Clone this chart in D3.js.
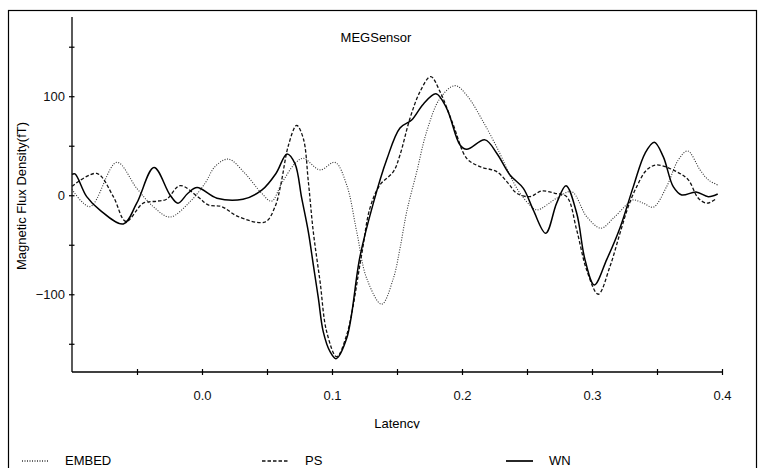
<!DOCTYPE html>
<html>
<head>
<meta charset="utf-8">
<script src="https://cdn.jsdelivr.net/npm/d3@7"></script>
<style>
  body { margin: 0; background: #fff; }
  svg { display: block; font-family: "Liberation Sans", Arial, sans-serif; }
</style>
</head>
<body>
<div id="chart"></div>
<script>
// MEG sensor traces (latency in s, flux density in fT)
const wnLatency = [-0.1, -0.0977, -0.0887, -0.0785, -0.0605, -0.0502, -0.0369, -0.0246, -0.0185, -0.0108, -0.0038,
  0.0115, 0.0315, 0.0462, 0.0569, 0.0654, 0.0715, 0.0767, 0.0818, 0.0856, 0.0895, 0.0933, 0.0985, 0.1031, 0.1113,
  0.1215, 0.1318, 0.1421, 0.1523, 0.1613, 0.1702, 0.18, 0.1882, 0.1985, 0.2036, 0.2177, 0.2267, 0.2369, 0.2472,
  0.2548, 0.2644, 0.2728, 0.28, 0.2882, 0.2946, 0.3018, 0.3113, 0.3215, 0.3318, 0.3408, 0.3479, 0.3548, 0.3625,
  0.369, 0.38, 0.3895, 0.3967];
const wnValues = [21, 21.5, -1.4, -15, -29, -8, 28, 0.3, -8, 2, 7.7,
  -3, -4, 5.4, 22, 41.7, 32, -3, -37, -70, -104, -138, -158, -165, -144.5,
  -62, -8, 36, 68, 76, 92, 102.5, 87.8, 50.8, 46.4, 55.9, 42.4, 20.5, 7,
  -14.8, -38.4, -8, 9.7, -18, -65, -90.6, -65, -33, 8.7, 42.4, 53.5, 39, 8.7,
  0.3, 3.3, -1.4, 1.3];

const psLatency = [-0.1, -0.081, -0.0682, -0.0585, -0.0452, -0.0348, -0.0272, -0.0169, -0.0028, 0.0048, 0.0152,
  0.0279, 0.0485, 0.0562, 0.0608, 0.0664, 0.0728, 0.0779, 0.0818, 0.0856, 0.0908, 0.0959, 0.1036, 0.1113, 0.1228,
  0.1292, 0.1369, 0.1472, 0.1523, 0.16, 0.1677, 0.1759, 0.1831, 0.1933, 0.2036, 0.2138, 0.2267, 0.2356, 0.2421,
  0.2523, 0.2613, 0.2715, 0.2805, 0.2882, 0.2959, 0.3048, 0.3138, 0.3215, 0.3279, 0.3344, 0.3421, 0.3498, 0.3651,
  0.3741, 0.3818, 0.3887, 0.3959];
const psValues = [9, 22, -1.4, -26.5, -8, -6, -4, 9.7, -2, -9.8, -11.5,
  -21.6, -27, -11.5, 12, 50, 70.5, 57.5, 13.7, -36.8, -87, -137.8, -163, -141, -60,
  -13, 10.4, 23.8, 40.7, 77.7, 104.6, 119.8, 104.6, 71, 37.3, 28.9, 23.8, 12, 2,
  -1.4, 4.3, 2, -1.4, -35, -75.5, -100, -72, -38.5, -11.5, 8.7, 25.6, 30.6, 23.8,
  15.5, -3, -8, -3];

const embedLatency = [-0.1, -0.0862, -0.0656, -0.0502, -0.0375, -0.0246, -0.0092, 0.0023, 0.01, 0.0202, 0.0331,
  0.0459, 0.0535, 0.0613, 0.0715, 0.0779, 0.0908, 0.1023, 0.1113, 0.119, 0.1267, 0.1382, 0.1472, 0.1523, 0.1575,
  0.1652, 0.1728, 0.1831, 0.1946, 0.2036, 0.2164, 0.2292, 0.2369, 0.2446, 0.2523, 0.2577, 0.2728, 0.2844, 0.2959,
  0.3069, 0.3164, 0.3279, 0.3318, 0.3395, 0.3472, 0.3574, 0.3664, 0.3736, 0.3831, 0.3895, 0.3967];
const embedValues = [6, -11.5, 33.2, 7, -11.5, -22, -6.5, 12, 28.9, 36.5, 22,
  2, -6, 12, 32, 37.3, 25.6, 33.2, 10.4, -36.8, -84, -110, -84, -53.6, -16.5,
  23.8, 64.2, 97.9, 110.7, 101, 74, 42, 20, 2, -10, -14.8, -3, 3.6, -21.6,
  -33.3, -23.2, -8, -4.7, -8, -12, 8.7, 35.7, 44.7, 25.6, 15.5, 10.4];

const seriesNames = ["EMBED", "PS", "WN"];
const xTicks = [-0.05, 0, 0.05, 0.1, 0.15, 0.2, 0.25, 0.3, 0.35, 0.4];
const xTickLabels = [0, 0.1, 0.2, 0.3, 0.4];
const yTicks = [-150, -100, -50, 0, 50, 100, 150];
const yTickLabels = [-100, 0, 100];

const width = 762, height = 468;

const svg = d3.select("#chart").append("svg")
  .attr("width", width)
  .attr("height", height);

// outer frame (bottom edge falls outside the window)
svg.append("rect")
  .attr("x", 8.5).attr("y", 10.5)
  .attr("width", 748).attr("height", 480)
  .attr("fill", "none")
  .attr("stroke", "#000")
  .attr("stroke-width", 1.2);

const x = d3.scaleLinear().domain([-0.1, 0.4]).range([72, 722]);
const y = d3.scaleLinear().domain([-178.5, 180]).range([372, 17]);

// x axis
const gx = svg.append("g")
  .attr("transform", "translate(0,372)")
  .call(d3.axisBottom(x).tickValues(xTicks).tickSize(3)
    .tickFormat(d => xTickLabels.some(v => Math.abs(v - d) < 1e-9) ? d3.format(".1f")(d) : ""));
gx.select(".domain").attr("d", `M${x(-0.1)},0H${x(0.4)}`).attr("stroke-width", 1.3);
gx.selectAll(".tick line").attr("y1", -3).attr("y2", 3).attr("stroke-width", 1.2);
gx.selectAll(".tick text").attr("y", 27.5).attr("dy", null)
  .attr("font-size", 13).attr("font-family", "Liberation Sans, Arial, sans-serif").attr("fill", "#111");

// y axis
const gy = svg.append("g")
  .attr("transform", "translate(72,0)")
  .call(d3.axisLeft(y).tickValues(yTicks).tickSize(3)
    .tickFormat(d => yTickLabels.includes(d) ? d3.format("d")(d).replace("-", "\u2212") : ""));
gy.select(".domain").attr("d", `M0,${y(-178.5)}V${y(180)}`).attr("stroke-width", 1.3);
gy.selectAll(".tick line").attr("x1", -3).attr("x2", 2.5).attr("stroke-width", 1.2);
gy.selectAll(".tick text").attr("x", -7)
  .attr("font-size", 13).attr("font-family", "Liberation Sans, Arial, sans-serif").attr("fill", "#111");

// title and axis labels
svg.append("text")
  .attr("x", 376).attr("y", 42)
  .attr("text-anchor", "middle")
  .attr("font-size", 13)
  .text("MEGSensor");

svg.append("text")
  .attr("transform", "translate(26,196) rotate(-90)")
  .attr("text-anchor", "middle")
  .attr("font-size", 13)
  .text("Magnetic Flux Density(fT)");

svg.append("clipPath").attr("id", "xlabClip")
  .append("rect").attr("x", 0).attr("y", 400).attr("width", width).attr("height", 28.5);

svg.append("text")
  .attr("x", 397).attr("y", 427.5)
  .attr("text-anchor", "middle")
  .attr("font-size", 13)
  .attr("clip-path", "url(#xlabClip)")
  .text("Latency");

// traces
const line = d3.line()
  .x(d => x(d[0]))
  .y(d => y(d[1]))
  .curve(d3.curveCatmullRom.alpha(0.5));

const styles = {
  EMBED: { dash: "1,1.5", w: 1.1, color: "#333" },
  PS: { dash: "3.5,2", w: 1.3, color: "#111" },
  WN: { dash: null, w: 1.5, color: "#000" }
};

const traces = [
  { name: "EMBED", pts: d3.zip(embedLatency, embedValues) },
  { name: "PS", pts: d3.zip(psLatency, psValues) },
  { name: "WN", pts: d3.zip(wnLatency, wnValues) }
];

svg.append("g")
  .selectAll("path")
  .data(traces)
  .enter().append("path")
    .attr("d", d => line(d.pts))
    .attr("fill", "none")
    .attr("stroke", d => styles[d.name].color)
    .attr("stroke-width", d => styles[d.name].w)
    .attr("stroke-dasharray", d => styles[d.name].dash);

// legend along the bottom edge
const legendX = [22, 262, 506];
const legend = svg.append("g")
  .selectAll("g")
  .data(seriesNames)
  .enter().append("g")
    .attr("transform", (d, i) => `translate(${legendX[i]},461)`);

legend.append("line")
  .attr("x1", 0).attr("x2", 27)
  .attr("stroke", d => styles[d].color)
  .attr("stroke-width", d => styles[d].w + 0.2)
  .attr("stroke-dasharray", d => styles[d].dash);

legend.append("text")
  .attr("x", 43).attr("y", 4)
  .attr("font-size", 13)
  .text(d => d);
</script>
</body>
</html>
